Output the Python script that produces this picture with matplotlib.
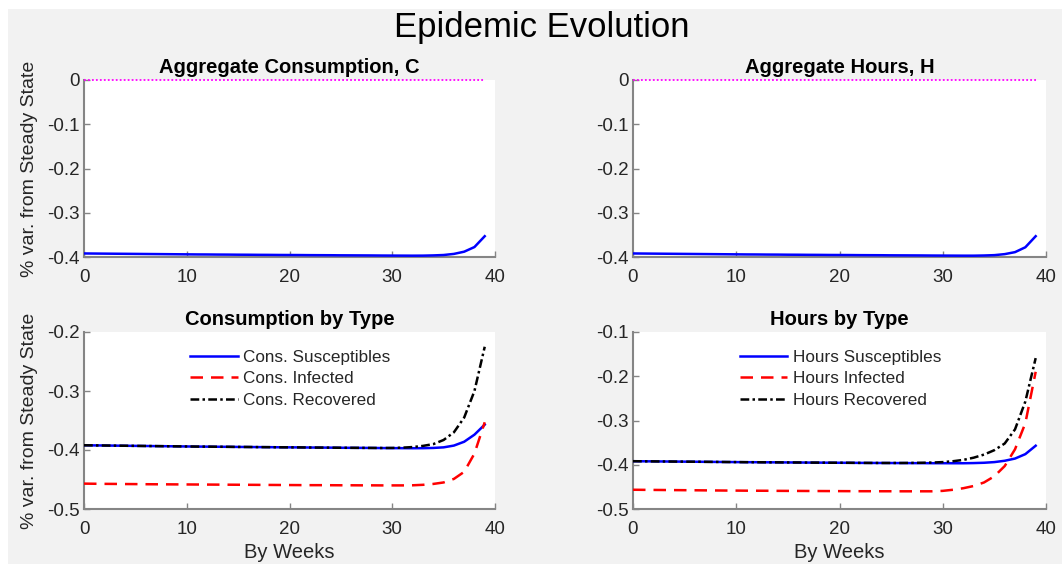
import matplotlib
matplotlib.use("Agg")
import matplotlib.pyplot as plt
from matplotlib.patches import Rectangle

weeks = list(range(40))

agg_C = [-0.3920, -0.3922, -0.3924, -0.3926, -0.3928, -0.3930, -0.3932, -0.3934, -0.3936, -0.3938,
         -0.3940, -0.3942, -0.3943, -0.3945, -0.3946, -0.3948, -0.3949, -0.3951, -0.3952, -0.3954,
         -0.3955, -0.3956, -0.3958, -0.3959, -0.3960, -0.3962, -0.3963, -0.3964, -0.3965, -0.3967,
         -0.3968, -0.3969, -0.3970, -0.3969, -0.3964, -0.3955, -0.3930, -0.3880, -0.3775, -0.3530]

agg_H = [-0.3920, -0.3922, -0.3924, -0.3926, -0.3928, -0.3930, -0.3932, -0.3934, -0.3936, -0.3938,
         -0.3940, -0.3942, -0.3943, -0.3945, -0.3946, -0.3948, -0.3949, -0.3951, -0.3952, -0.3954,
         -0.3955, -0.3956, -0.3958, -0.3959, -0.3960, -0.3962, -0.3963, -0.3964, -0.3965, -0.3967,
         -0.3968, -0.3969, -0.3970, -0.3970, -0.3966, -0.3958, -0.3935, -0.3890, -0.3780, -0.3530]

cons_S = [-0.3920, -0.3922, -0.3924, -0.3926, -0.3928, -0.3930, -0.3932, -0.3934, -0.3936, -0.3938,
          -0.3940, -0.3942, -0.3943, -0.3945, -0.3946, -0.3948, -0.3949, -0.3951, -0.3952, -0.3954,
          -0.3955, -0.3956, -0.3958, -0.3959, -0.3960, -0.3962, -0.3963, -0.3964, -0.3965, -0.3967,
          -0.3968, -0.3969, -0.3970, -0.3969, -0.3965, -0.3955, -0.3925, -0.3860, -0.3740, -0.3570]

cons_I = [-0.4570, -0.4572, -0.4574, -0.4575, -0.4577, -0.4578, -0.4580, -0.4581, -0.4582, -0.4583,
          -0.4584, -0.4585, -0.4586, -0.4587, -0.4588, -0.4589, -0.4590, -0.4591, -0.4592, -0.4593,
          -0.4594, -0.4595, -0.4596, -0.4596, -0.4597, -0.4598, -0.4598, -0.4599, -0.4599, -0.4600,
          -0.4600, -0.4600, -0.4598, -0.4590, -0.4575, -0.4550, -0.4490, -0.4370, -0.4060, -0.3530]

cons_R = [-0.3920, -0.3922, -0.3924, -0.3926, -0.3928, -0.3930, -0.3932, -0.3934, -0.3936, -0.3938,
          -0.3940, -0.3942, -0.3943, -0.3945, -0.3946, -0.3948, -0.3949, -0.3951, -0.3952, -0.3954,
          -0.3955, -0.3956, -0.3958, -0.3959, -0.3960, -0.3962, -0.3963, -0.3964, -0.3965, -0.3966,
          -0.3965, -0.3960, -0.3950, -0.3930, -0.3900, -0.3830, -0.3700, -0.3450, -0.3000, -0.2250]

hours_S = [-0.3920, -0.3922, -0.3924, -0.3926, -0.3928, -0.3930, -0.3932, -0.3934, -0.3936, -0.3938,
           -0.3940, -0.3942, -0.3943, -0.3945, -0.3946, -0.3948, -0.3949, -0.3951, -0.3952, -0.3954,
           -0.3955, -0.3956, -0.3958, -0.3959, -0.3960, -0.3961, -0.3962, -0.3963, -0.3964, -0.3965,
           -0.3965, -0.3966, -0.3966, -0.3962, -0.3955, -0.3940, -0.3910, -0.3860, -0.3760, -0.3570]

hours_I = [-0.4565, -0.4567, -0.4569, -0.4571, -0.4573, -0.4575, -0.4577, -0.4579, -0.4581, -0.4583,
           -0.4584, -0.4586, -0.4587, -0.4588, -0.4590, -0.4591, -0.4592, -0.4593, -0.4594, -0.4595,
           -0.4596, -0.4597, -0.4598, -0.4598, -0.4599, -0.4599, -0.4600, -0.4600, -0.4600, -0.4600,
           -0.4590, -0.4565, -0.4530, -0.4480, -0.4400, -0.4260, -0.4030, -0.3650, -0.3060, -0.1900]

hours_R = [-0.3920, -0.3922, -0.3924, -0.3926, -0.3928, -0.3930, -0.3932, -0.3934, -0.3936, -0.3938,
           -0.3940, -0.3942, -0.3943, -0.3945, -0.3946, -0.3948, -0.3949, -0.3951, -0.3952, -0.3954,
           -0.3955, -0.3956, -0.3958, -0.3959, -0.3960, -0.3960, -0.3960, -0.3958, -0.3955, -0.3950,
           -0.3940, -0.3920, -0.3890, -0.3840, -0.3770, -0.3670, -0.3520, -0.3200, -0.2570, -0.1590]

titles = ["Aggregate Consumption, C", "Aggregate Hours, H", "Consumption by Type", "Hours by Type"]
cons_labels = ["Cons. Susceptibles", "Cons. Infected", "Cons. Recovered"]
hours_labels = ["Hours Susceptibles", "Hours Infected", "Hours Recovered"]
xticks = [0, 10, 20, 30, 40]
yticks_top = [-0.4, -0.3, -0.2, -0.1, 0]
yticks_bl = [-0.5, -0.4, -0.3, -0.2]
yticks_br = [-0.5, -0.4, -0.3, -0.2, -0.1]

plt.rcParams['font.family'] = ['Liberation Sans', 'DejaVu Sans']
plt.rcParams['axes.unicode_minus'] = False

W, H = 1062, 564
fig = plt.figure(figsize=(W / 100, H / 100), dpi=100, facecolor='white')
fig.patches.append(Rectangle((8 / W, 0), 1 - 8 / W, 1 - 9 / H, transform=fig.transFigure,
                             facecolor='#f2f2f2', edgecolor='none', zorder=-10))

def px_axes(x0, x1, y0, y1):
    return fig.add_axes([x0 / W, 1 - y1 / H, (x1 - x0) / W, (y1 - y0) / H])

ax_tl = px_axes(84, 495, 80, 257)
ax_tr = px_axes(633, 1046, 80, 257)
ax_bl = px_axes(84, 495, 332, 509)
ax_br = px_axes(633, 1046, 332, 509)

tick_col = '#262626'
spine_col = '#858585'
LW = 1.8

def style(ax, yticks, title):
    ax.set_facecolor('white')
    for s in ['top', 'right']:
        ax.spines[s].set_visible(False)
    for s in ['left', 'bottom']:
        ax.spines[s].set_color(spine_col)
        ax.spines[s].set_linewidth(1.5)
    ax.set_xlim(0, 40)
    ax.set_ylim(yticks[0], yticks[-1])
    ax.set_xticks(xticks)
    ax.set_yticks(yticks)
    ax.set_xticklabels([str(v) for v in xticks])
    ax.set_yticklabels(['0' if v == 0 else ('%g' % v) for v in yticks])
    ax.tick_params(direction='in', length=4, width=1, color=spine_col,
                   labelsize=13.5, labelcolor=tick_col)
    ax.tick_params(axis='x', pad=9)
    ax.tick_params(axis='y', pad=3)
    ax.set_title(title, fontsize=14.5, fontweight='bold', color='black', pad=5)

def dotted_zero(ax):
    ax.plot([0, 39], [0, 0], color='#ff00ff', lw=1.3, dashes=(1, 1.2), clip_on=False, zorder=3)

# Top panels
ax_tl.plot(weeks, agg_C, color='#0000ff', lw=LW, zorder=4)
dotted_zero(ax_tl)
style(ax_tl, yticks_top, titles[0])
ax_tr.plot(weeks, agg_H, color='#0000ff', lw=LW, zorder=4)
dotted_zero(ax_tr)
style(ax_tr, yticks_top, titles[1])

def by_type(ax, S, I, R, labels, yticks, title):
    ax.plot(weeks, S, color='#0000ff', lw=LW, label=labels[0], zorder=3)
    ax.plot(weeks, I, color='#ff0000', lw=LW, dashes=(5, 3.2), label=labels[1], zorder=4)
    ax.plot(weeks, R, color='black', lw=LW, dashes=(3.5, 1.3, 1, 1.3), label=labels[2], zorder=5)
    style(ax, yticks, title)
    ax.legend(loc='upper left', bbox_to_anchor=(0.258, 0.90), frameon=False, fontsize=12.3,
              handlelength=2.8, handletextpad=0.3, labelspacing=0.38, borderpad=0,
              borderaxespad=0, labelcolor=tick_col)
    ax.set_xlabel('By Weeks', fontsize=14.5, color=tick_col, labelpad=3)

by_type(ax_bl, cons_S, cons_I, cons_R, cons_labels, yticks_bl, titles[2])
by_type(ax_br, hours_S, hours_I, hours_R, hours_labels, yticks_br, titles[3])

for ax in (ax_tl, ax_bl):
    ax.set_ylabel('% var. from Steady State', fontsize=14, color=tick_col)
    ax.yaxis.set_label_coords(-0.112, 0.5)

fig.text(542 / W, 1 - 37 / H, 'Epidemic Evolution', fontsize=25, ha='center', va='baseline',
         color='black')

fig.savefig('out.png', dpi=100, facecolor=fig.get_facecolor())
